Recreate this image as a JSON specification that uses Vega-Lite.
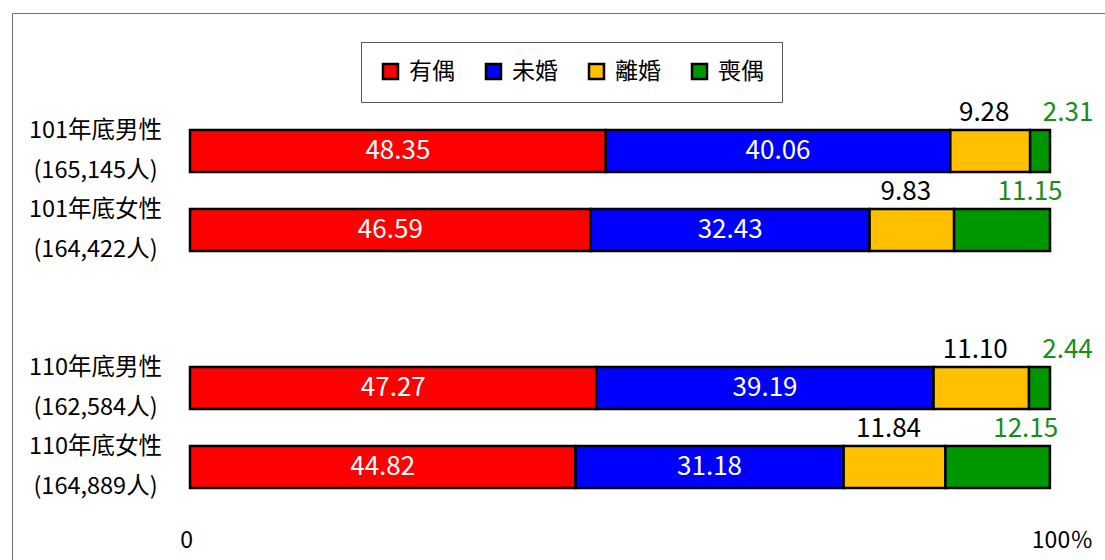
{
  "$schema": "https://vega.github.io/schema/vega-lite/v6.json",
  "width": 1093,
  "height": 547,
  "autosize": {"type": "none"},
  "padding": {"left": 12, "top": 13, "right": 0, "bottom": 0},
  "background": "white",
  "config": {
    "view": {"stroke": "#707070", "strokeWidth": 1},
    "font": "Noto Sans CJK TC"
  },
  "data": {
    "values": [
      {"cat": "101年底男性\n(165,145人)", "type": "有偶", "o": 1, "value": 48.35},
      {"cat": "101年底男性\n(165,145人)", "type": "未婚", "o": 2, "value": 40.06},
      {"cat": "101年底男性\n(165,145人)", "type": "離婚", "o": 3, "value": 9.28},
      {"cat": "101年底男性\n(165,145人)", "type": "喪偶", "o": 4, "value": 2.31},
      {"cat": "101年底女性\n(164,422人)", "type": "有偶", "o": 1, "value": 46.59},
      {"cat": "101年底女性\n(164,422人)", "type": "未婚", "o": 2, "value": 32.43},
      {"cat": "101年底女性\n(164,422人)", "type": "離婚", "o": 3, "value": 9.83},
      {"cat": "101年底女性\n(164,422人)", "type": "喪偶", "o": 4, "value": 11.15},
      {"cat": "110年底男性\n(162,584人)", "type": "有偶", "o": 1, "value": 47.27},
      {"cat": "110年底男性\n(162,584人)", "type": "未婚", "o": 2, "value": 39.19},
      {"cat": "110年底男性\n(162,584人)", "type": "離婚", "o": 3, "value": 11.10},
      {"cat": "110年底男性\n(162,584人)", "type": "喪偶", "o": 4, "value": 2.44},
      {"cat": "110年底女性\n(164,889人)", "type": "有偶", "o": 1, "value": 44.82},
      {"cat": "110年底女性\n(164,889人)", "type": "未婚", "o": 2, "value": 31.18},
      {"cat": "110年底女性\n(164,889人)", "type": "離婚", "o": 3, "value": 11.84},
      {"cat": "110年底女性\n(164,889人)", "type": "喪偶", "o": 4, "value": 12.15}
    ]
  },
  "transform": [
    {"stack": "value", "groupby": ["cat"], "sort": [{"field": "o", "order": "ascending"}], "as": ["x0", "x1"]},
    {"calculate": "(datum.x0 + datum.x1) / 2", "as": "xm"}
  ],
  "encoding": {
    "y": {
      "field": "cat",
      "type": "nominal",
      "title": null,
      "scale": {
        "domain": ["101年底男性\n(165,145人)", "101年底女性\n(164,422人)", "gap", "110年底男性\n(162,584人)", "110年底女性\n(164,889人)"],
        "range": [98.5, 493.5],
        "paddingInner": 0.468,
        "paddingOuter": 0.234
      },
      "axis": {
        "domain": false,
        "ticks": false,
        "grid": false,
        "labelExpr": "datum.value == 'gap' ? '' : split(datum.value, '\\n')",
        "labelAlign": "center",
        "labelBaseline": "middle",
        "labelPadding": -83,
        "labelOffset": -20,
        "labelFontSize": 23.5,
        "labelLineHeight": 40,
        "labelColor": "black",
        "labelLimit": 300
      }
    }
  },
  "layer": [
    {
      "mark": {"type": "bar", "stroke": "black", "strokeWidth": 2.5},
      "encoding": {
        "x": {
          "field": "x0",
          "type": "quantitative",
          "title": null,
          "scale": {"domain": [0, 100], "range": [178, 1038], "nice": false, "zero": false},
          "axis": {
            "values": [0, 100],
            "labelExpr": "datum.value == 100 ? '100％' : '0'",
            "labelFlush": false,
            "domain": false,
            "ticks": false,
            "grid": false,
            "labelPadding": -31,
            "labelFontSize": 23,
            "labelColor": "black",
            "labelOffset": {"expr": "datum.value == 100 ? 12 : -4"}
          }
        },
        "x2": {"field": "x1"},
        "color": {
          "field": "type",
          "type": "nominal",
          "scale": {
            "domain": ["有偶", "未婚", "離婚", "喪偶"],
            "range": ["#FF0000", "#0000FF", "#FFC000", "#009600"]
          },
          "legend": {
            "title": null,
            "orient": "none",
            "legendX": 349,
            "legendY": 29,
            "direction": "horizontal",
            "columns": 4,
            "columnPadding": 26,
            "padding": 18,
            "strokeColor": "#595959",
            "symbolType": "square",
            "symbolSize": 225,
            "symbolStrokeColor": "black",
            "symbolStrokeWidth": 2.5,
            "symbolOpacity": 1,
            "labelFontSize": 23,
            "labelColor": "black",
            "labelOffset": 7
          }
        }
      }
    },
    {
      "transform": [{"filter": "datum.o <= 2"}],
      "mark": {"type": "text", "color": "white", "fontSize": 26, "align": "center", "baseline": "middle"},
      "encoding": {
        "x": {"field": "xm", "type": "quantitative", "title": null},
        "text": {"field": "value", "type": "quantitative", "format": ".2f"}
      }
    },
    {
      "transform": [{"filter": "datum.o == 3"}],
      "mark": {"type": "text", "color": "black", "fontSize": 26, "align": "center", "baseline": "middle", "dx": -6, "dy": -38.5},
      "encoding": {
        "x": {"field": "xm", "type": "quantitative", "title": null},
        "text": {"field": "value", "type": "quantitative", "format": ".2f"}
      }
    },
    {
      "transform": [{"filter": "datum.o == 4"}],
      "mark": {"type": "text", "color": "#1a8c1a", "fontSize": 26, "align": "center", "baseline": "middle", "dx": 28, "dy": -38.5},
      "encoding": {
        "x": {"field": "xm", "type": "quantitative", "title": null},
        "text": {"field": "value", "type": "quantitative", "format": ".2f"}
      }
    }
  ]
}
